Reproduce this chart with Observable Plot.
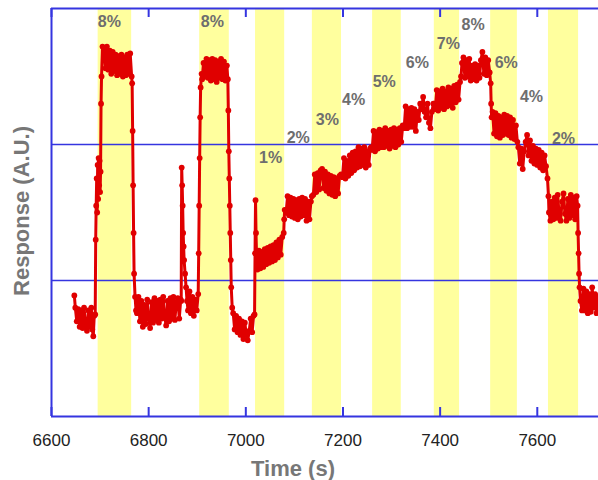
<!DOCTYPE html>
<html>
<head>
<meta charset="utf-8">
<script src="https://cdn.jsdelivr.net/npm/d3@7"></script>
<script src="https://cdn.jsdelivr.net/npm/@observablehq/plot@0.6"></script>
<style>
  html, body { margin: 0; padding: 0; background: #fff; }
  #chart { width: 598px; height: 480px; }
</style>
</head>
<body>
<div id="chart"></div>
<script>
// ---- data (time in s, response in A.U.) ----
const times = [
  6647, 6649, 6652, 6655, 6658, 6661, 6664, 6667, 6670, 6673, 6676, 6679, 6682, 6684, 6686, 6688,
  6690, 6691, 6692, 6693, 6694, 6695, 6696, 6697, 6698, 6699, 6700, 6701, 6702, 6703,
  6705, 6708, 6711, 6714, 6717, 6720, 6723, 6726, 6729, 6732, 6735, 6738, 6741, 6744, 6747, 6750, 6753, 6756, 6759, 6762, 6765,
  6766, 6767, 6768, 6769, 6770, 6772, 6774,
  6776, 6779, 6782, 6785, 6788, 6791, 6794, 6797, 6800, 6803, 6806, 6809, 6812, 6815, 6818, 6821, 6824, 6827, 6830, 6833, 6836, 6839, 6842, 6845, 6848, 6851, 6854, 6857, 6860, 6863, 6866,
  6867, 6868, 6869, 6870, 6871, 6872, 6873, 6875, 6877, 6879, 6881, 6884, 6887, 6890, 6893, 6896, 6899,
  6902, 6903, 6904, 6905, 6906, 6907, 6909,
  6910, 6913, 6916, 6919, 6922, 6925, 6928, 6931, 6934, 6937, 6940, 6943, 6946, 6949, 6952, 6955, 6958, 6961,
  6963, 6964, 6965, 6966, 6967, 6968, 6969, 6970, 6972,
  6974, 6977, 6980, 6983, 6986, 6989, 6992, 6995, 6998, 7001, 7004, 7007, 7010, 7013, 7016,
  7018, 7019, 7020, 7021, 7022, 7023,
  7024, 7027, 7030, 7033, 7036, 7039, 7042, 7045, 7048, 7051, 7054, 7057, 7060, 7063, 7066, 7069, 7072, 7075,
  7078, 7079, 7080,
  7083, 7086, 7089, 7092, 7095, 7098, 7101, 7104, 7107, 7110, 7113, 7116, 7119, 7122, 7125, 7128, 7131, 7134,
  7136, 7139, 7142, 7145, 7148, 7151, 7154, 7157, 7160, 7163, 7166, 7169, 7172, 7175, 7178, 7181, 7184, 7187, 7190, 7193,
  7196, 7199, 7202, 7205, 7208, 7211, 7214, 7217, 7220, 7223, 7226, 7229, 7232, 7235, 7238, 7241, 7244, 7247, 7250, 7253, 7256,
  7258, 7260, 7263, 7266, 7269, 7272, 7275, 7278, 7281, 7284, 7287, 7290, 7293, 7296, 7299, 7302, 7305, 7308, 7311, 7314, 7317, 7320,
  7323, 7326, 7329, 7332, 7335, 7338, 7341, 7344, 7347, 7350, 7353, 7356, 7359, 7362, 7365, 7368, 7371, 7374, 7377, 7380, 7383, 7386,
  7388, 7390, 7393, 7396, 7399, 7402, 7405, 7408, 7411, 7414, 7417, 7420, 7423, 7426, 7429, 7432, 7435, 7438, 7441,
  7443, 7445, 7448, 7451, 7454, 7457, 7460, 7463, 7466, 7469, 7472, 7475, 7478, 7481, 7484, 7487, 7490, 7493, 7496, 7499, 7502,
  7504, 7505, 7506,
  7508, 7511, 7514, 7517, 7520, 7523, 7526, 7529, 7532, 7535, 7538, 7541, 7544, 7547, 7550, 7553, 7556,
  7559, 7561, 7564, 7567, 7570, 7573, 7576, 7579, 7582, 7585, 7588, 7591, 7594, 7597, 7600, 7603, 7606, 7609, 7612, 7615, 7618,
  7621, 7623, 7624,
  7627, 7630, 7633, 7636, 7639, 7642, 7645, 7648, 7651, 7654, 7657, 7660, 7663, 7666, 7669, 7672, 7675, 7678, 7681,
  7683, 7684, 7685, 7686, 7687, 7689,
  7692, 7695, 7698, 7701, 7704, 7707, 7710, 7713, 7716, 7719, 7722, 7725, 7728
];
const response = [
  0.89, 0.80, 0.70, 0.79, 0.66, 0.78, 0.65, 0.80, 0.68, 0.63, 0.78, 0.66, 0.80, 0.64, 0.59, 0.74,
  0.75, 1.30, 1.55, 1.75, 1.50, 1.85, 1.60, 1.90, 1.70, 1.88, 1.65, 1.80, 2.30, 2.50,
  2.72, 2.70, 2.56, 2.72, 2.55, 2.69, 2.52, 2.68, 2.54, 2.66, 2.51, 2.65, 2.52, 2.66, 2.50, 2.64, 2.51, 2.66, 2.52, 2.67, 2.50,
  2.45, 2.10, 1.70, 1.35, 1.05, 0.88, 0.78,
  0.76, 0.88, 0.70, 0.85, 0.66, 0.82, 0.68, 0.86, 0.72, 0.65, 0.84, 0.69, 0.87, 0.71, 0.85, 0.69, 0.86, 0.72, 0.88, 0.73, 0.67, 0.85, 0.70, 0.87, 0.72, 0.88, 0.71, 0.84, 0.87, 0.72, 0.86,
  0.85, 1.83, 1.70, 1.55, 1.35, 1.25, 1.15, 1.05, 0.95, 0.85, 0.78, 0.92, 0.76, 0.88, 0.74, 0.86, 0.78,
  0.90, 1.20, 1.55, 1.90, 2.20, 2.42, 2.52,
  2.48, 2.60, 2.50, 2.63, 2.49, 2.62, 2.47, 2.63, 2.48, 2.62, 2.46, 2.61, 2.49, 2.63, 2.48, 2.61, 2.47, 2.58,
  2.48, 2.25, 1.95, 1.75, 1.55, 1.35, 1.15, 0.95, 0.80,
  0.76, 0.64, 0.74, 0.62, 0.72, 0.60, 0.70, 0.57, 0.69, 0.60, 0.56, 0.63, 0.72, 0.62, 0.74,
  0.75, 1.20, 1.59, 1.35, 1.20, 1.10,
  1.08, 1.22, 1.09, 1.21, 1.10, 1.23, 1.12, 1.24, 1.13, 1.25, 1.14, 1.26, 1.15, 1.28, 1.17, 1.30, 1.19, 1.32,
  1.35, 1.45, 1.52,
  1.50, 1.62, 1.48, 1.61, 1.47, 1.60, 1.46, 1.59, 1.45, 1.60, 1.47, 1.61, 1.48, 1.60, 1.44, 1.58, 1.45, 1.58,
  1.62, 1.63, 1.78, 1.65, 1.79, 1.67, 1.81, 1.82, 1.68, 1.80, 1.66, 1.78, 1.64, 1.77, 1.63, 1.76, 1.62, 1.75, 1.64, 1.77,
  1.78, 1.76, 1.90, 1.75, 1.88, 1.77, 1.92, 1.79, 1.94, 1.81, 1.95, 1.83, 1.98, 1.84, 1.97, 1.85, 1.98, 1.83, 1.95, 1.85, 1.97,
  1.98, 1.96, 2.10, 1.95, 2.09, 1.97, 2.11, 1.98, 2.10, 1.98, 2.12, 1.99, 2.10, 1.97, 2.11, 1.99, 2.12, 1.98, 2.11, 2.00, 2.12, 2.02,
  2.14, 2.12, 2.28, 2.12, 2.26, 2.13, 2.27, 2.13, 2.26, 2.10, 2.24, 2.18, 2.30, 2.26, 2.35, 2.24, 2.20, 2.30, 2.16, 2.12, 2.24, 2.30,
  2.30, 2.26, 2.40, 2.25, 2.39, 2.27, 2.41, 2.26, 2.39, 2.28, 2.42, 2.29, 2.41, 2.27, 2.43, 2.31, 2.44, 2.33, 2.46,
  2.50, 2.60, 2.64, 2.49, 2.62, 2.50, 2.63, 2.47, 2.58, 2.48, 2.59, 2.47, 2.58, 2.49, 2.62, 2.68, 2.52, 2.64, 2.51, 2.62, 2.53,
  2.45, 2.30, 2.20,
  2.24, 2.08, 2.23, 2.06, 2.21, 2.05, 2.20, 2.07, 2.22, 2.08, 2.21, 2.07, 2.20, 2.05, 2.18, 2.04, 2.14,
  2.02, 1.98, 1.86, 1.97, 1.82, 1.95, 2.02, 2.07, 1.92, 2.03, 1.88, 1.99, 1.86, 1.97, 1.85, 1.96, 1.83, 1.94, 1.81, 1.92, 1.84,
  1.75, 1.62, 1.50,
  1.44, 1.58, 1.45, 1.61, 1.46, 1.63, 1.48, 1.44, 1.58, 1.64, 1.49, 1.44, 1.60, 1.46, 1.63, 1.48, 1.61, 1.45, 1.62,
  1.55, 1.35, 1.20, 1.05, 0.95, 0.85,
  0.78, 0.94, 0.78, 0.92, 0.76, 0.90, 0.77, 0.95, 0.80, 0.90, 0.76, 0.88, 0.79
];

// gas exposure windows (s) and their concentration labels
const bandStart = [6696, 6905, 7020, 7137, 7261, 7388, 7504, 7623];
const bandEnd   = [6765, 6966, 7080, 7197, 7320, 7440, 7559, 7685];
const labelText  = ["8%", "8%", "1%", "2%", "3%", "4%", "5%", "6%", "7%", "8%", "6%", "4%", "2%"];
const labelTime  = [6719, 6931, 7051, 7108, 7168, 7222, 7285, 7353, 7417, 7468, 7536, 7588, 7654];
const labelLevel = [2.90, 2.90, 1.90, 2.05, 2.18, 2.33, 2.46, 2.60, 2.74, 2.88, 2.60, 2.35, 2.04];

const xTicks = [6600, 6800, 7000, 7200, 7400, 7600];
const gridLevels = [1, 2];

// ---- build ----
const readings = times.map((t, i) => ({t, v: response[i]}));
const bands = bandStart.map((s, i) => ({s, e: bandEnd[i]}));
const labels = labelText.map((txt, i) => ({txt, t: labelTime[i], v: labelLevel[i]}));

const W = 598, H = 480, mT = 8, mB = 64, mL = 51;
const yMax = 3;
const tickLen = 9 * yMax / (H - mT - mB);
const blue = "#3535e0";

const chart = Plot.plot({
  width: W, height: H,
  marginLeft: mL, marginRight: 0, marginTop: mT, marginBottom: mB,
  style: {fontFamily: "'Liberation Sans', Arial, sans-serif", fontSize: "17px", background: "#fff"},
  x: {domain: [6600, 7726]},
  y: {domain: [0, yMax], axis: null},
  marks: [
    Plot.rect(bands, {x1: "s", x2: "e", y1: 0, y2: yMax, fill: "#ffff9e"}),
    Plot.ruleY(gridLevels, {stroke: blue, strokeWidth: 1.6}),
    Plot.line(readings, {x: "t", y: "v", stroke: "#e00000", strokeWidth: 3}),
    Plot.dot(readings, {x: "t", y: "v", fill: "#e00000", r: 2.9}),
    Plot.text(labels, {x: "t", y: "v", text: "txt", fill: "#6e6e6e", fontWeight: "bold", fontSize: 16}),
    Plot.ruleY([0, yMax], {stroke: blue, strokeWidth: 2}),
    Plot.ruleX([6600], {y1: 0, y2: yMax, stroke: blue, strokeWidth: 2}),
    Plot.ruleX(xTicks, {y1: 0, y2: tickLen, stroke: blue, strokeWidth: 2}),
    Plot.ruleX(xTicks, {y1: yMax - tickLen, y2: yMax, stroke: blue, strokeWidth: 2}),
    Plot.axisX(xTicks, {tickSize: 0, tickPadding: 17, tickFormat: d => String(d), label: null, fill: "#222", fontSize: 17})
  ]
});

document.getElementById("chart").appendChild(chart);

const svg = d3.select(chart);
svg.append("text")
  .attr("x", 293).attr("y", 476)
  .attr("text-anchor", "middle")
  .attr("font-family", "'Liberation Sans', Arial, sans-serif")
  .attr("font-size", 22).attr("font-weight", "bold")
  .attr("fill", "#777")
  .text("Time (s)");
svg.append("text")
  .attr("transform", "translate(29,211) rotate(-90)")
  .attr("text-anchor", "middle")
  .attr("font-family", "'Liberation Sans', Arial, sans-serif")
  .attr("font-size", 22).attr("font-weight", "bold")
  .attr("fill", "#777")
  .text("Response (A.U.)");
</script>
</body>
</html>
